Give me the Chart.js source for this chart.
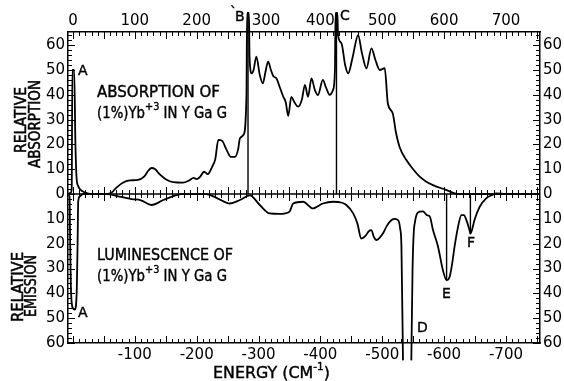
<!DOCTYPE html>
<html>
<head>
<meta charset="utf-8">
<script src="https://cdn.jsdelivr.net/npm/chart.js@4.4.0/dist/chart.umd.min.js"></script>
<style>
  html, body { margin: 0; padding: 0; background: #fff; }
  #wrap { width: 564px; height: 381px; }
</style>
</head>
<body>
<div id="wrap"><canvas id="spec"></canvas></div>
<script>
// energy (cm-1) and relative intensity
// absorption is plotted up, luminescence down (negative values)
const absEnergy = [-8, -4, -2, -1, 2, 4, 6, 8, 12, 18, 25, 35, 55, 62, 70, 80, 92, 105, 115, 122, 127, 133, 140, 150, 162, 178, 188, 195, 200, 205, 212, 218, 225, 230, 235, 241, 248, 255, 262, 267, 270, 276, 280.5, 281.5, 284.5, 285.5, 289, 292, 296.5, 302, 307, 311, 315.5, 320, 324, 329, 334, 340, 344, 348, 353, 358, 364, 370, 375, 380, 385.6, 391, 396, 404, 409, 415, 420.5, 423.5, 424.5, 427.5, 428.5, 434, 440, 445, 452, 461, 467, 474.5, 482.5, 489, 496, 504, 509, 517, 522, 528, 539, 550, 560.5, 570, 582, 604, 617, 625, 755];
const absValue  = [0, 0.5, 2, 50, 50, 20, 6, 3.5, 1.8, 0.8, 0.2, 0, 0, 0.5, 2.5, 4.5, 5.5, 5.7, 7, 9.5, 10.5, 10, 8, 6, 4.8, 4.6, 5.5, 6.5, 6, 6.8, 9, 8, 11, 14, 21.8, 21.5, 18, 15, 15, 18, 22.5, 24, 40, 73, 73, 55, 48.6, 50, 55.4, 48, 44.6, 49, 53.4, 50, 47.5, 46.6, 43.3, 39.2, 37, 31.5, 39.2, 37, 35.2, 38, 44, 39.2, 46.6, 42, 39.9, 46, 43, 40, 42, 50, 73, 73, 64, 60.8, 52, 48.6, 55, 64, 57, 50.7, 58.7, 54, 50, 50.7, 36.6, 32.5, 25, 19, 13.7, 10, 7, 5.2, 3.6, 1.6, 0.3, 0, 0];

// luminescence up to the D line
const lumEnergy = [-8, -5.5, -4.5, -3, 0, 3, 6, 7.5, 8.5, 11, 16, 55, 75, 95, 110, 127, 146, 160, 175, 215, 232, 253.6, 270, 286, 302, 318, 334, 350, 356, 372, 388, 404, 420.5, 435, 442, 453, 460, 466, 470, 474, 478, 482.5, 486, 490.6, 496, 501, 507, 512, 519, 525.5, 529, 531, 533.5];
const lumValue  = [0, -1, -20, -40, -46, -46.5, -40, -20, -3, -1, 0, 0, -1, -2, -2.5, -4.4, -2.4, -1, 0, 0, -1.5, -3.8, -2.4, -0.5, -4.4, -7.8, -8, -7.1, -3.8, -3.1, -5.8, -3.8, -3.1, -3.5, -4.4, -7.8, -12, -17.9, -17.5, -16.5, -15, -14.5, -17, -18.5, -17.5, -15.9, -13, -11.2, -10, -10.5, -14, -21, -67];
// luminescence past the D line
const lumEnergyHigh = [547, 549, 551, 552.5, 556, 560.5, 566, 572, 577, 582, 590, 598, 604, 609, 613, 617, 622.5, 628, 632, 636, 641, 642.5, 645, 649, 657.5, 668, 678, 684, 700, 755];
const lumValueHigh  = [-67, -30, -15, -11.8, -8, -7.1, -7, -8.5, -9.1, -14.5, -21, -30.6, -34.7, -33.3, -28, -21, -13.2, -8.5, -8.5, -10.5, -14.5, -15.9, -14.5, -10.5, -5.1, -1.7, -0.3, 0.3, 0, 0];

// vertical marker lines: B, C (absorption), E, F (emission)
const markEnergy = [283, 426, 604, 642.5];
const markEnd    = [73, 73, -34.7, -15.9];

const topTicks = [0, 100, 200, 300, 400, 500, 600, 700];
const bottomTicks = [100, 200, 300, 400, 500, 600, 700];
const yTicks = [-60, -50, -40, -30, -20, -10, 0, 10, 20, 30, 40, 50, 60];

const FONT = '"DejaVu Sans", Verdana, sans-serif';

function pts(xs, ys) {
    return xs.map((v, i) => ({ x: v, y: ys[i] }));
}

function curve(data, width) {
    return {
        data: data,
        borderColor: '#000',
        borderWidth: width,
        pointRadius: 0,
        fill: false,
        clip: false,
        cubicInterpolationMode: 'monotone'
    };
}

const datasets = [
    curve(pts(absEnergy, absValue), 1.8),
    curve(pts(lumEnergy, lumValue), 1.8),
    curve(pts(lumEnergyHigh, lumValueHigh), 1.8)
];
markEnergy.forEach((e, i) => {
    datasets.push(curve([{ x: e, y: 0 }, { x: e, y: markEnd[i] }], 1.4));
});

// one line of text made of runs (some raised), squeezed to a given width
function textRuns(ctx, x, y, runs, w) {
    ctx.save();
    let total = 0;
    runs.forEach(r => {
        ctx.font = r.size + 'px ' + FONT;
        total += ctx.measureText(r.t).width;
    });
    ctx.translate(x, y);
    ctx.scale(w / total, 1);
    ctx.lineWidth = 0.4;
    let cx = 0;
    runs.forEach(r => {
        ctx.font = r.size + 'px ' + FONT;
        ctx.fillText(r.t, cx, r.dy || 0);
        ctx.strokeText(r.t, cx, r.dy || 0);
        cx += ctx.measureText(r.t).width;
    });
    ctx.restore();
}

function vText(ctx, text, cx, cy, w) {
    ctx.save();
    ctx.font = '16px ' + FONT;
    const m = ctx.measureText(text).width;
    ctx.translate(cx, cy);
    ctx.rotate(-Math.PI / 2);
    ctx.scale(w / m, 1);
    ctx.textAlign = 'center';
    ctx.textBaseline = 'middle';
    ctx.lineWidth = 0.5;
    ctx.fillText(text, 0, 0);
    ctx.strokeText(text, 0, 0);
    ctx.restore();
}

function letter(ctx, t, x, y) {
    ctx.fillText(t, x, y);
    ctx.strokeText(t, x, y);
}

const yb = [
    { t: '(1%)Yb', size: 15 },
    { t: '+3', size: 11, dy: -8 },
    { t: ' IN Y Ga G', size: 15 }
];

const paper = {
    id: 'paper',
    beforeDatasetsDraw(chart) {
        const { ctx, chartArea: a, scales: { x, y } } = chart;
        const y0 = y.getPixelForValue(0);
        ctx.save();
        ctx.strokeStyle = '#000';
        ctx.lineWidth = 1.5;
        ctx.beginPath();
        ctx.moveTo(a.left, y0);
        ctx.lineTo(a.right, y0);
        ctx.stroke();
        ctx.lineWidth = 1;
        ctx.beginPath();
        for (let v = 0; v <= 750; v += 10) {
            const px = Math.round(x.getPixelForValue(v)) + 0.5;
            const len = v % 50 === 0 ? 7 : 4;
            ctx.moveTo(px, a.top); ctx.lineTo(px, a.top + len);
            ctx.moveTo(px, a.bottom); ctx.lineTo(px, a.bottom - len);
            ctx.moveTo(px, y0 - len); ctx.lineTo(px, y0 + len);
        }
        for (let v = -60; v <= 64; v += 2) {
            const py = Math.round(y.getPixelForValue(v)) + 0.5;
            const len = v % 10 === 0 ? 7 : 4;
            ctx.moveTo(a.left, py); ctx.lineTo(a.left + len, py);
            ctx.moveTo(a.right, py); ctx.lineTo(a.right - len, py);
        }
        ctx.stroke();
        ctx.restore();
    },
    afterDraw(chart) {
        const ctx = chart.ctx;
        ctx.save();
        ctx.fillStyle = '#000';
        ctx.strokeStyle = '#000';
        ctx.textBaseline = 'alphabetic';

        textRuns(ctx, 97, 96.5, [{ t: 'ABSORPTION OF', size: 15 }], 123);
        textRuns(ctx, 97, 117.5, yb, 130);
        textRuns(ctx, 97, 260, [{ t: 'LUMINESCENCE OF', size: 15 }], 136);
        textRuns(ctx, 97, 281, yb, 130);
        textRuns(ctx, 213, 378, [
            { t: 'ENERGY (CM', size: 15 },
            { t: '-1', size: 10, dy: -8 },
            { t: ')', size: 15 }
        ], 117);

        vText(ctx, 'RELATIVE', 22, 120, 66);
        vText(ctx, 'ABSORPTION', 36, 124, 88);
        vText(ctx, 'RELATIVE', 19, 287, 70);
        vText(ctx, 'EMISSION', 32, 286, 62);

        ctx.font = '14px ' + FONT;
        ctx.lineWidth = 0.4;
        letter(ctx, 'A', 78, 75);
        letter(ctx, 'A', 78, 317);
        letter(ctx, '`', 230, 17);
        letter(ctx, 'B', 235, 21);
        letter(ctx, 'C', 340, 20);
        letter(ctx, 'D', 417, 332);
        letter(ctx, 'E', 442, 298);
        letter(ctx, 'F', 467, 247);
        ctx.restore();
    }
};

const tickFont = { family: FONT, size: 15 };
const frame = { display: true, color: '#000', width: 1.5 };

new Chart(document.getElementById('spec'), {
    type: 'line',
    data: { datasets: datasets },
    options: {
        responsive: true,
        maintainAspectRatio: false,
        animation: false,
        events: [],
        layout: { padding: 0 },
        plugins: {
            legend: { display: false },
            tooltip: { enabled: false }
        },
        scales: {
            x: {
                type: 'linear',
                position: 'bottom',
                min: -8,
                max: 755,
                grid: { display: false, drawTicks: false },
                border: frame,
                afterBuildTicks: s => { s.ticks = bottomTicks.map(v => ({ value: v })); },
                afterFit: s => { s.height = 38; },
                ticks: { callback: v => '-' + v, color: '#000', font: tickFont, padding: 3, maxRotation: 0, autoSkip: false }
            },
            xTop: {
                type: 'linear',
                position: 'top',
                min: -8,
                max: 755,
                grid: { display: false, drawTicks: false },
                border: frame,
                afterBuildTicks: s => { s.ticks = topTicks.map(v => ({ value: v })); },
                afterFit: s => { s.height = 32; },
                // the 300 label sits to the right of the B line in the original
                ticks: { callback: v => v === 300 ? '\u2002\u2002300' : String(v), color: '#000', font: tickFont, padding: 2, maxRotation: 0, autoSkip: false }
            },
            y: {
                type: 'linear',
                position: 'left',
                min: -60,
                max: 65.3,
                grid: { display: false, drawTicks: false },
                border: frame,
                afterBuildTicks: s => { s.ticks = yTicks.map(v => ({ value: v })); },
                afterFit: s => { s.width = 68; },
                ticks: { callback: v => String(Math.abs(v)), color: '#000', font: tickFont, padding: 3 }
            },
            yRight: {
                type: 'linear',
                position: 'right',
                min: -60,
                max: 65.3,
                grid: { display: false, drawTicks: false },
                border: frame,
                afterBuildTicks: s => { s.ticks = yTicks.map(v => ({ value: v })); },
                afterFit: s => { s.width = 24; },
                ticks: { callback: v => String(Math.abs(v)), color: '#000', font: tickFont, padding: 3 }
            }
        }
    },
    plugins: [paper]
});
</script>
</body>
</html>
